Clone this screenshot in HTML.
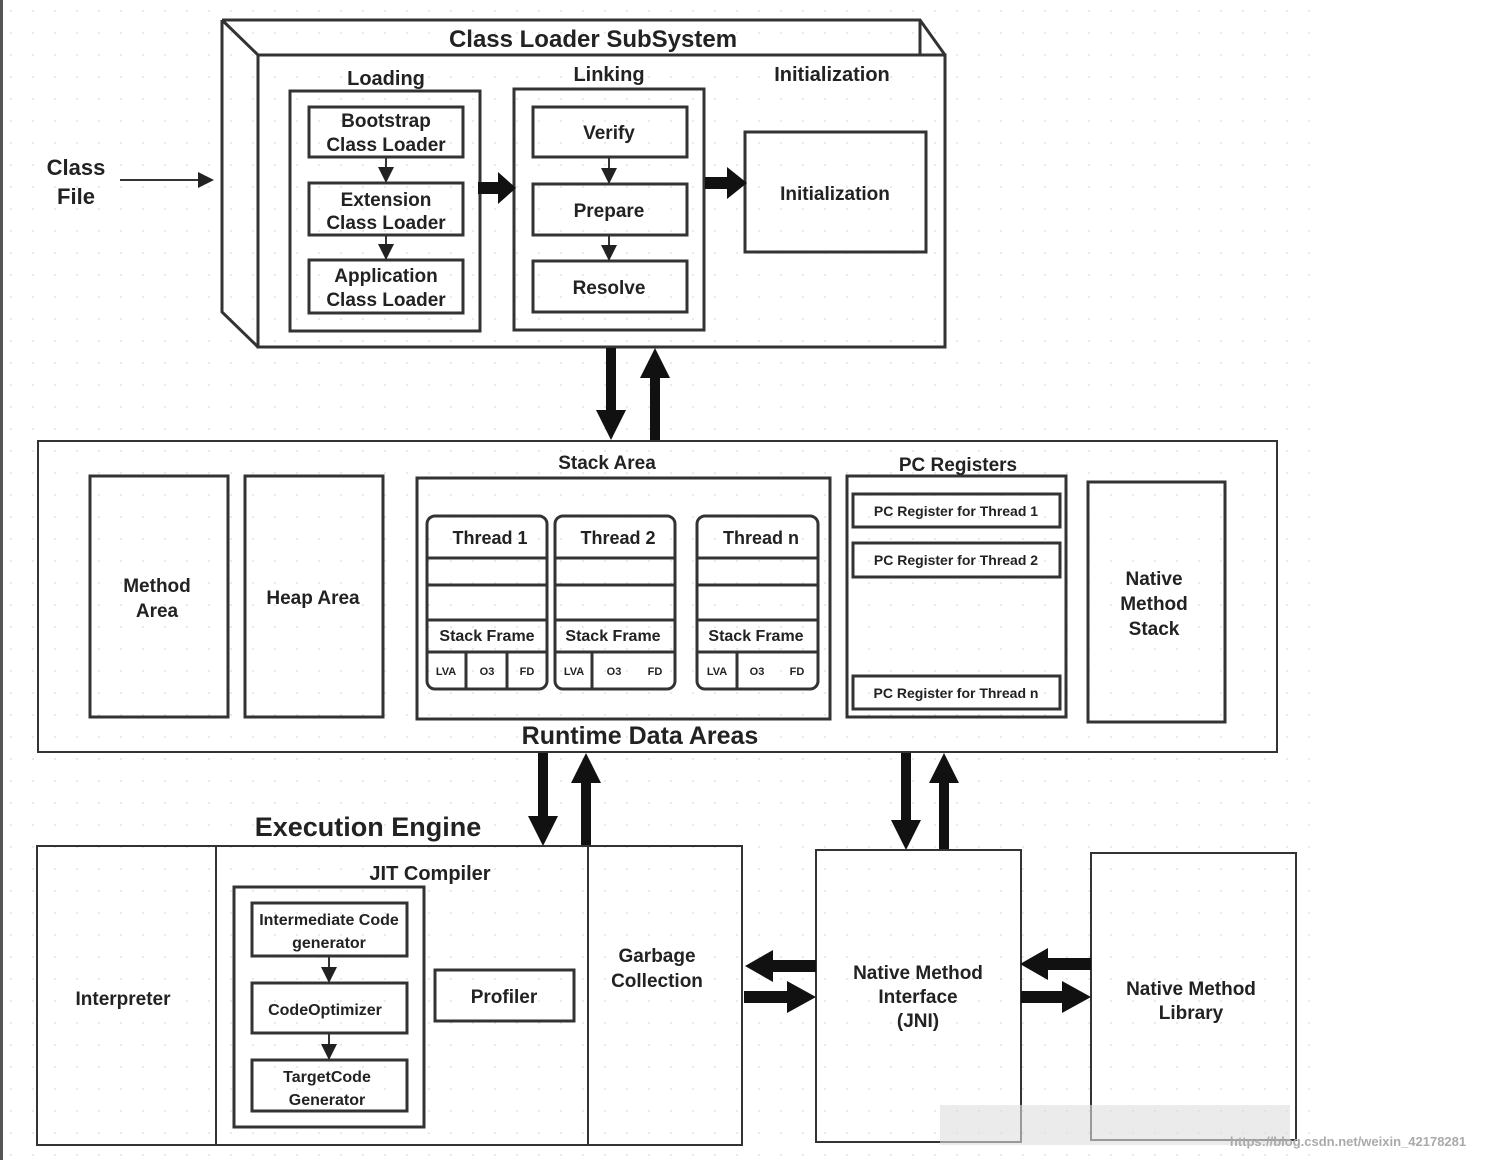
<!DOCTYPE html>
<html><head><meta charset="utf-8"><style>
html,body{margin:0;padding:0;background:#fff;}
svg{display:block;}
text{font-family:"Liberation Sans",sans-serif;font-weight:bold;fill:#222;text-anchor:middle;}
.b{fill:none;stroke:#333;stroke-width:3;}
.t{fill:none;stroke:#333;stroke-width:2;}
</style></head><body>
<svg width="1492" height="1160" viewBox="0 0 1492 1160" xmlns="http://www.w3.org/2000/svg">
<defs>
<pattern id="dots" width="22" height="22" patternUnits="userSpaceOnUse"><circle cx="11" cy="11" r="1" fill="#e2e2e2"/></pattern>
<marker id="ah" markerWidth="8" markerHeight="8" refX="7" refY="4" orient="auto"><path d="M0,0 L8,4 L0,8 z" fill="#222"/></marker>
</defs>
<rect width="1492" height="1160" fill="#fff"/>
<rect x="0" y="0" width="1320" height="1160" fill="url(#dots)"/>
<rect x="0" y="0" width="3" height="1160" fill="#555"/>

<!-- Class Loader SubSystem -->
<path class="b" d="M222,20 L920,20 L945,55 M222,20 L258,55 M222,20 L222,312 L258,347 M920,20 L920,55"/>
<rect class="b" x="258" y="55" width="687" height="292"/>
<text x="593" y="47" font-size="24" font-weight="normal">Class Loader SubSystem</text>
<text x="386" y="85" font-size="20">Loading</text>
<text x="609" y="81" font-size="20">Linking</text>
<text x="832" y="81" font-size="20">Initialization</text>
<rect class="b" x="290" y="91" width="190" height="240"/>
<rect class="b" x="309" y="107" width="154" height="50"/>
<rect class="b" x="309" y="183" width="154" height="52"/>
<rect class="b" x="309" y="260" width="154" height="53"/>
<text x="386" y="127" font-size="19">Bootstrap</text><text x="386" y="151" font-size="19">Class Loader</text>
<text x="386" y="206" font-size="19">Extension</text><text x="386" y="229" font-size="19">Class Loader</text>
<text x="386" y="282" font-size="19">Application</text><text x="386" y="306" font-size="19">Class Loader</text>
<line class="t" x1="386" y1="157" x2="386" y2="181" marker-end="url(#ah)"/>
<line class="t" x1="386" y1="235" x2="386" y2="258" marker-end="url(#ah)"/>
<rect class="b" x="514" y="89" width="190" height="241"/>
<rect class="b" x="533" y="107" width="154" height="50"/>
<rect class="b" x="533" y="184" width="154" height="51"/>
<rect class="b" x="533" y="261" width="154" height="51"/>
<text x="609" y="139" font-size="19">Verify</text>
<text x="609" y="217" font-size="19">Prepare</text>
<text x="609" y="294" font-size="19">Resolve</text>
<line class="t" x1="609" y1="157" x2="609" y2="182" marker-end="url(#ah)"/>
<line class="t" x1="609" y1="235" x2="609" y2="259" marker-end="url(#ah)"/>
<rect class="b" x="745" y="132" width="181" height="120"/>
<text x="835" y="200" font-size="19">Initialization</text>
<polygon fill="#111" points="478,182 498,182 498,172 516,188 498,204 498,194 478,194"/>
<polygon fill="#111" points="705,177 727,177 727,167 747,183 727,199 727,189 705,189"/>
<text x="76" y="175" font-size="22">Class</text><text x="76" y="204" font-size="22">File</text>
<line class="t" x1="120" y1="180" x2="212" y2="180" marker-end="url(#ah)"/>

<!-- vertical thick arrows -->
<polygon fill="#111" points="606,348 616,348 616,410 626,410 611,440 596,410 606,410"/>
<polygon fill="#111" points="650,441 660,441 660,378 670,378 655,348 640,378 650,378"/>

<!-- Runtime Data Areas -->
<rect class="t" x="38" y="441" width="1239" height="311"/>
<text x="640" y="744" font-size="25">Runtime Data Areas</text>
<rect class="b" x="90" y="476" width="138" height="241"/>
<text x="157" y="592" font-size="19">Method</text><text x="157" y="617" font-size="19">Area</text>
<rect class="b" x="245" y="476" width="138" height="241"/>
<text x="313" y="604" font-size="19">Heap Area</text>
<text x="607" y="469" font-size="19" font-weight="normal">Stack Area</text>
<rect class="b" x="417" y="478" width="413" height="241"/>
<g>
<rect class="b" x="427" y="516" width="120" height="173" rx="8"/>
<path class="b" d="M427,558H547M427,585H547M427,620H547M427,652H547M466,652V689M507,652V689"/>
<text x="490" y="544" font-size="18">Thread 1</text>
<text x="487" y="641" font-size="16" font-weight="normal">Stack Frame</text>
<text x="446" y="675" font-size="11">LVA</text><text x="487" y="675" font-size="11">O3</text><text x="527" y="675" font-size="11">FD</text>
</g>
<g>
<rect class="b" x="555" y="516" width="120" height="173" rx="8"/>
<path class="b" d="M555,558H675M555,585H675M555,620H675M555,652H675M592,652V689"/>
<text x="618" y="544" font-size="18">Thread 2</text>
<text x="613" y="641" font-size="16" font-weight="normal">Stack Frame</text>
<text x="574" y="675" font-size="11">LVA</text><text x="614" y="675" font-size="11">O3</text><text x="655" y="675" font-size="11">FD</text>
</g>
<g>
<rect class="b" x="697" y="516" width="121" height="173" rx="8"/>
<path class="b" d="M697,558H818M697,585H818M697,620H818M697,652H818M737,652V689"/>
<text x="761" y="544" font-size="18">Thread n</text>
<text x="756" y="641" font-size="16" font-weight="normal">Stack Frame</text>
<text x="717" y="675" font-size="11">LVA</text><text x="757" y="675" font-size="11">O3</text><text x="797" y="675" font-size="11">FD</text>
</g>
<text x="958" y="471" font-size="19" font-weight="normal">PC Registers</text>
<rect class="b" x="847" y="476" width="219" height="241"/>
<rect class="b" x="853" y="494" width="207" height="33"/>
<rect class="b" x="853" y="543" width="207" height="34"/>
<rect class="b" x="853" y="676" width="207" height="33"/>
<text x="956" y="516" font-size="14" font-weight="normal">PC Register for Thread 1</text>
<text x="956" y="565" font-size="14" font-weight="normal">PC Register for Thread 2</text>
<text x="956" y="698" font-size="14" font-weight="normal">PC Register for Thread n</text>
<rect class="b" x="1088" y="482" width="137" height="240"/>
<text x="1154" y="585" font-size="19">Native</text><text x="1154" y="610" font-size="19">Method</text><text x="1154" y="635" font-size="19">Stack</text>

<!-- arrows to execution / JNI -->
<polygon fill="#111" points="538,753 548,753 548,816 558,816 543,846 528,816 538,816"/>
<polygon fill="#111" points="581,846 591,846 591,783 601,783 586,753 571,783 581,783"/>
<polygon fill="#111" points="901,753 911,753 911,820 921,820 906,850 891,820 901,820"/>
<polygon fill="#111" points="939,850 949,850 949,783 959,783 944,753 929,783 939,783"/>

<!-- Execution Engine -->
<text x="368" y="836" font-size="27">Execution Engine</text>
<rect class="t" x="37" y="846" width="705" height="299"/>
<line class="t" x1="216" y1="846" x2="216" y2="1145"/>
<line class="t" x1="588" y1="846" x2="588" y2="1145"/>
<text x="123" y="1005" font-size="19">Interpreter</text>
<text x="430" y="880" font-size="20">JIT Compiler</text>
<rect class="b" x="234" y="887" width="190" height="240"/>
<rect class="b" x="252" y="903" width="155" height="53"/>
<rect class="b" x="252" y="983" width="155" height="50"/>
<rect class="b" x="252" y="1060" width="155" height="51"/>
<text x="329" y="925" font-size="16" font-weight="normal">Intermediate Code</text><text x="329" y="948" font-size="16" font-weight="normal">generator</text>
<text x="325" y="1015" font-size="16" font-weight="normal">CodeOptimizer</text>
<text x="327" y="1082" font-size="16" font-weight="normal">TargetCode</text><text x="327" y="1105" font-size="16" font-weight="normal">Generator</text>
<line class="t" x1="329" y1="956" x2="329" y2="981" marker-end="url(#ah)"/>
<line class="t" x1="329" y1="1033" x2="329" y2="1058" marker-end="url(#ah)"/>
<rect class="b" x="435" y="970" width="139" height="51"/>
<text x="504" y="1003" font-size="19">Profiler</text>
<text x="657" y="962" font-size="19">Garbage</text><text x="657" y="987" font-size="19">Collection</text>

<!-- JNI -->
<rect class="t" x="816" y="850" width="205" height="292"/>
<text x="918" y="979" font-size="19">Native Method</text><text x="918" y="1003" font-size="19">Interface</text><text x="918" y="1027" font-size="19">(JNI)</text>
<rect class="t" x="1091" y="853" width="205" height="287"/>
<text x="1191" y="995" font-size="19">Native Method</text><text x="1191" y="1019" font-size="19">Library</text>
<polygon fill="#111" points="816,960 773,960 773,950 745,966 773,982 773,972 816,972"/>
<polygon fill="#111" points="744,991 787,991 787,981 816,997 787,1013 787,1003 744,1003"/>
<polygon fill="#111" points="1091,958 1048,958 1048,948 1020,964 1048,980 1048,970 1091,970"/>
<polygon fill="#111" points="1021,991 1062,991 1062,981 1091,997 1062,1013 1062,1003 1021,1003"/>

<rect x="940" y="1105" width="350" height="40" fill="#ddd" opacity="0.6"/>
<text x="1348" y="1146" font-size="13" font-weight="normal" fill="#999" style="fill:#aaa">https://blog.csdn.net/weixin_42178281</text>
</svg>
</body></html>
